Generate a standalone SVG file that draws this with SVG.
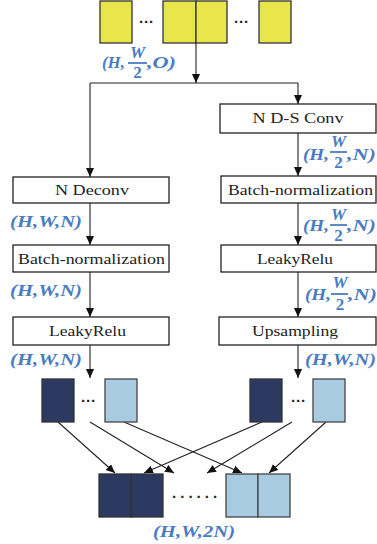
<svg xmlns="http://www.w3.org/2000/svg" width="377" height="544" viewBox="0 0 377 544">
<style>
.box{fill:#fff;stroke:#222;stroke-width:1.3}
.bt{font-family:"Liberation Serif",serif;font-size:14.5px;fill:#222;text-anchor:middle}
.lab{font-family:"Liberation Serif",serif;font-size:16.5px;font-weight:bold;font-style:italic;fill:#4a7cc2}
.fr{font-family:"Liberation Serif",serif;font-size:17px;font-weight:bold;font-style:italic;fill:#4a7cc2;text-anchor:middle}
.two{font-style:normal}
.bar{stroke:#4a7cc2;stroke-width:1.8}
.yel{fill:#e8e64a;stroke:#333;stroke-width:1.3}
.dk{fill:#2c3a61;stroke:#333;stroke-width:1.3}
.lt{fill:#a9cbe2;stroke:#444;stroke-width:1.3}
.dots{font-family:"Liberation Sans",sans-serif;font-size:15px;fill:#222;font-weight:bold}
.c{stroke:#222;stroke-width:1.1;fill:none}
</style>
<defs>
<marker id="ah" markerWidth="10" markerHeight="10" refX="9" refY="4" orient="auto" markerUnits="userSpaceOnUse">
<path d="M0,0 L9,4 L0,8 Z" fill="#111"/>
</marker>
</defs>
<rect width="377" height="544" fill="#fff"/>
<g id="input">
<rect class="yel" x="100" y="1" width="32" height="42"/>
<rect class="yel" x="163" y="1" width="33" height="42"/>
<rect class="yel" x="196" y="1" width="31" height="42"/>
<rect class="yel" x="259" y="1" width="32" height="42"/>
<text class="dots" x="139" y="27">···</text>
<text class="dots" x="234" y="27">···</text>
</g>
<g id="label-top">
<text class="lab" x="102" y="68" textLength="23" lengthAdjust="spacingAndGlyphs">(H,</text>
<text class="fr" x="137.5" y="58">W</text>
<line class="bar" x1="128" y1="63" x2="147" y2="63"/>
<text class="fr two" x="137.5" y="78">2</text>
<text class="lab" x="147" y="68" textLength="29" lengthAdjust="spacingAndGlyphs">,O)</text>
</g>
<g id="connectors">
<line class="c" x1="196" y1="43" x2="196" y2="83" marker-end="url(#ah)"/>
<line class="c" x1="90" y1="83" x2="298" y2="83"/>
<line class="c" x1="90" y1="83" x2="90" y2="177" marker-end="url(#ah)"/>
<line class="c" x1="298" y1="83" x2="298" y2="104" marker-end="url(#ah)"/>
<line class="c" x1="298" y1="133" x2="298" y2="176" marker-end="url(#ah)"/>
<line class="c" x1="298" y1="203" x2="298" y2="245" marker-end="url(#ah)"/>
<line class="c" x1="298" y1="272" x2="298" y2="317" marker-end="url(#ah)"/>
<line class="c" x1="298" y1="345" x2="298" y2="378" marker-end="url(#ah)"/>
<line class="c" x1="90" y1="203" x2="90" y2="245" marker-end="url(#ah)"/>
<line class="c" x1="90" y1="272" x2="90" y2="317" marker-end="url(#ah)"/>
<line class="c" x1="90" y1="345" x2="90" y2="378" marker-end="url(#ah)"/>
<line class="c" x1="58" y1="422" x2="115" y2="473" marker-end="url(#ah)"/>
<line class="c" x1="90" y1="422" x2="174" y2="473" marker-end="url(#ah)"/>
<line class="c" x1="124" y1="422" x2="242" y2="473" marker-end="url(#ah)"/>
<line class="c" x1="262" y1="422" x2="144" y2="473" marker-end="url(#ah)"/>
<line class="c" x1="292" y1="422" x2="207" y2="473" marker-end="url(#ah)"/>
<line class="c" x1="326" y1="422" x2="269" y2="473" marker-end="url(#ah)"/>
</g>
<g id="nds-conv">
<rect class="box" x="220" y="104" width="156" height="29"/>
<text class="bt" x="298" y="123" textLength="91" lengthAdjust="spacingAndGlyphs">N D-S Conv</text>
</g>
<g id="label-r1">
<text class="lab" x="303" y="160" textLength="26" lengthAdjust="spacingAndGlyphs">(H,</text>
<text class="fr" x="338.5" y="147">W</text>
<line class="bar" x1="330" y1="152" x2="347" y2="152"/>
<text class="fr two" x="338.5" y="168">2</text>
<text class="lab" x="347" y="160" textLength="29" lengthAdjust="spacingAndGlyphs">,N)</text>
</g>
<g id="n-deconv">
<rect class="box" x="13" y="177" width="156" height="26"/>
<text class="bt" x="92" y="195" textLength="74" lengthAdjust="spacingAndGlyphs">N Deconv</text>
</g>
<g id="bn-right">
<rect class="box" x="221" y="176" width="155" height="27"/>
<text class="bt" x="300.5" y="195" textLength="145" lengthAdjust="spacingAndGlyphs">Batch-normalization</text>
</g>
<g id="label-l1">
<text class="lab" x="10" y="227" textLength="72" lengthAdjust="spacingAndGlyphs">(H,W,N)</text>
</g>
<g id="label-r2">
<text class="lab" x="303" y="231" textLength="26" lengthAdjust="spacingAndGlyphs">(H,</text>
<text class="fr" x="338.5" y="220">W</text>
<line class="bar" x1="330" y1="225" x2="347" y2="225"/>
<text class="fr two" x="338.5" y="241">2</text>
<text class="lab" x="347" y="231" textLength="29" lengthAdjust="spacingAndGlyphs">,N)</text>
</g>
<g id="bn-left">
<rect class="box" x="13" y="245" width="156" height="27"/>
<text class="bt" x="91.5" y="264" textLength="147" lengthAdjust="spacingAndGlyphs">Batch-normalization</text>
</g>
<g id="leaky-right">
<rect class="box" x="221" y="245" width="155" height="27"/>
<text class="bt" x="295" y="264" textLength="76" lengthAdjust="spacingAndGlyphs">LeakyRelu</text>
</g>
<g id="label-l2">
<text class="lab" x="10" y="296" textLength="72" lengthAdjust="spacingAndGlyphs">(H,W,N)</text>
</g>
<g id="label-r3">
<text class="lab" x="305" y="300" textLength="26" lengthAdjust="spacingAndGlyphs">(H,</text>
<text class="fr" x="340" y="288">W</text>
<line class="bar" x1="331" y1="294" x2="348" y2="294"/>
<text class="fr two" x="340" y="310">2</text>
<text class="lab" x="348" y="300" textLength="29" lengthAdjust="spacingAndGlyphs">,N)</text>
</g>
<g id="leaky-left">
<rect class="box" x="13" y="317" width="156" height="28"/>
<text class="bt" x="87.5" y="336" textLength="77" lengthAdjust="spacingAndGlyphs">LeakyRelu</text>
</g>
<g id="upsampling">
<rect class="box" x="219" y="317" width="157" height="28"/>
<text class="bt" x="295" y="336" textLength="86" lengthAdjust="spacingAndGlyphs">Upsampling</text>
</g>
<g id="label-l3">
<text class="lab" x="10" y="365" textLength="72" lengthAdjust="spacingAndGlyphs">(H,W,N)</text>
</g>
<g id="label-r4">
<text class="lab" x="305" y="365" textLength="71" lengthAdjust="spacingAndGlyphs">(H,W,N)</text>
</g>
<g id="maps-left">
<rect class="dk" x="42" y="379" width="32" height="43"/>
<text class="dots" x="81" y="406">···</text>
<rect class="lt" x="105" y="379" width="32" height="43"/>
</g>
<g id="maps-right">
<rect class="dk" x="250" y="379" width="32" height="43"/>
<text class="dots" x="291" y="406">···</text>
<rect class="lt" x="313" y="379" width="32" height="43"/>
</g>
<g id="output">
<rect class="dk" x="99" y="474" width="32" height="43"/>
<rect class="dk" x="131" y="474" width="32" height="43"/>
<text class="dots" x="172" y="502" textLength="46" lengthAdjust="spacing">······</text>
<rect class="lt" x="226" y="474" width="32" height="43"/>
<rect class="lt" x="258" y="474" width="32" height="43"/>
</g>
<g id="label-out">
<text class="lab" x="153" y="537" textLength="82" lengthAdjust="spacingAndGlyphs">(H,W,2N)</text>
</g>
</svg>
